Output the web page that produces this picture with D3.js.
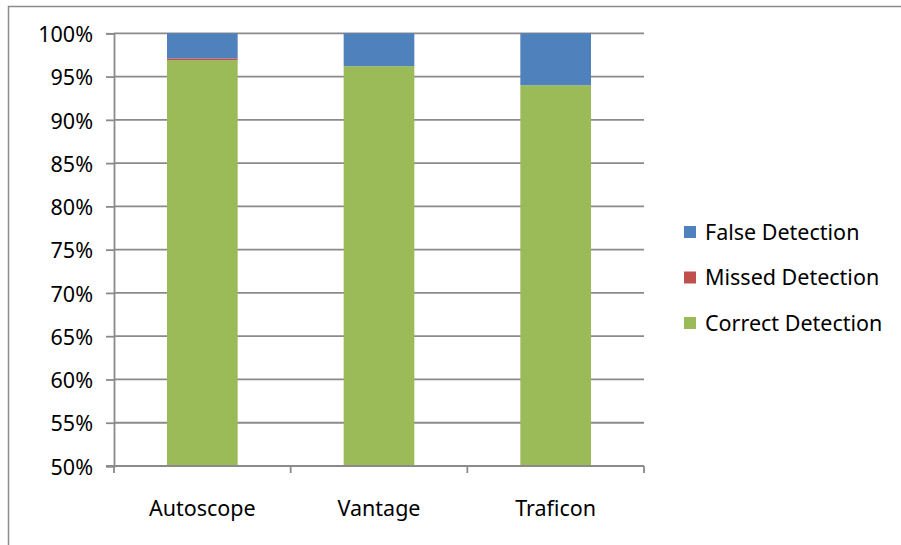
<!DOCTYPE html>
<html>
<head>
<meta charset="utf-8">
<script src="https://cdn.jsdelivr.net/npm/d3@7"></script>
<style>
  html, body { margin: 0; padding: 0; background: #fff; }
  svg text { font-family: "Noto Sans", "Open Sans", sans-serif; fill: #000; }
</style>
</head>
<body>
<svg id="chart" width="901" height="545"></svg>
<script>
const categories = ["Autoscope", "Vantage", "Traficon"];
const seriesNames = ["Correct Detection", "Missed Detection", "False Detection"];
const correctDetection = [96.9, 96.2, 94.0];
const missedDetection = [0.2, 0.0, 0.0];
const falseDetection = [2.9, 3.8, 6.0];
const yTicks = [50, 55, 60, 65, 70, 75, 80, 85, 90, 95, 100];
const seriesColors = ["#9BBB59", "#C0504D", "#4F81BD"];
const legendOrder = ["False Detection", "Missed Detection", "Correct Detection"];

(function () {
const svg = d3.select("#chart");
const plotLeft = 114, plotRight = 644, plotTop = 33.3, plotBottom = 466;

// chart border
svg.append("rect").attr("x", 8.5).attr("y", 6.5).attr("width", 1200).attr("height", 1200)
  .attr("fill", "none").attr("stroke", "#8c8c8c").attr("stroke-width", 1.5);

const x = d3.scaleBand().domain(categories).range([plotLeft, plotRight]).paddingInner(0.6).paddingOuter(0.3);
const xOuter = d3.scaleBand().domain(categories).range([plotLeft, plotRight]).padding(0);
const y = d3.scaleLinear().domain([50, 100]).range([plotBottom, plotTop]);

// gridlines
svg.append("g").selectAll("line").data(yTicks.filter(d => d !== 50)).join("line")
  .attr("x1", plotLeft).attr("x2", plotRight)
  .attr("y1", d => y(d)).attr("y2", d => y(d))
  .attr("stroke", "#8a8a8a").attr("stroke-width", 1.8);

// stacked data
const table = categories.map((c, i) => ({
  cat: c,
  "Correct Detection": correctDetection[i],
  "Missed Detection": missedDetection[i],
  "False Detection": falseDetection[i]
}));
const stack = d3.stack().keys(seriesNames)(table);

svg.append("g").selectAll("g").data(stack).join("g")
  .attr("fill", (d, i) => seriesColors[i])
  .selectAll("rect").data(d => d).join("rect")
  .attr("x", d => x(d.data.cat))
  .attr("width", x.bandwidth())
  .attr("y", d => y(Math.min(100, d[1])))
  .attr("height", d => Math.max(0, y(Math.max(50, d[0])) - y(Math.min(100, d[1]))));

// y axis
const yAxis = d3.axisLeft(y).tickValues(yTicks).tickSize(8).tickFormat(d => d + "%");
const gy = svg.append("g").attr("transform", `translate(${plotLeft},0)`).call(yAxis);
gy.select(".domain").attr("stroke", "#8a8a8a").attr("stroke-width", 1.8);
gy.selectAll(".tick line").attr("stroke", "#8a8a8a").attr("stroke-width", 1.8);
gy.selectAll(".tick text").attr("x", -21).attr("dy", "0.38em").attr("font-size", 21.5).attr("font-family", '"Noto Sans", sans-serif').attr("fill", "#000");

// x axis
const xAxis = d3.axisBottom(xOuter).tickSize(0).tickSizeOuter(0);
const gx = svg.append("g").attr("transform", `translate(0,${plotBottom})`).call(xAxis);
gx.select(".domain").attr("stroke", "#8a8a8a").attr("stroke-width", 1.8).attr("d", `M${plotLeft - 8},0H${plotRight}`);
gx.selectAll(".tick text").attr("y", 35).attr("font-size", 21.5).attr("font-family", '"Noto Sans", sans-serif').attr("fill", "#000");
// category boundary ticks
const bounds = categories.map(c => xOuter(c)).concat([plotRight]);
gx.append("g").selectAll("line").data(bounds).join("line")
  .attr("x1", d => d).attr("x2", d => d).attr("y1", 0).attr("y2", 7)
  .attr("stroke", "#8a8a8a").attr("stroke-width", 1.8);

// legend
const leg = svg.append("g");
const legItems = leg.selectAll("g").data(legendOrder).join("g")
  .attr("transform", (d, i) => `translate(684, ${232 + i * 45.5})`);
legItems.append("rect").attr("x", 0).attr("y", -6).attr("width", 12).attr("height", 12)
  .attr("fill", d => seriesColors[seriesNames.indexOf(d)]);
legItems.append("text").attr("x", 21).attr("y", 0).attr("dy", "0.35em")
  .attr("font-size", 21.5).text(d => d);
})();
</script>
</body>
</html>
